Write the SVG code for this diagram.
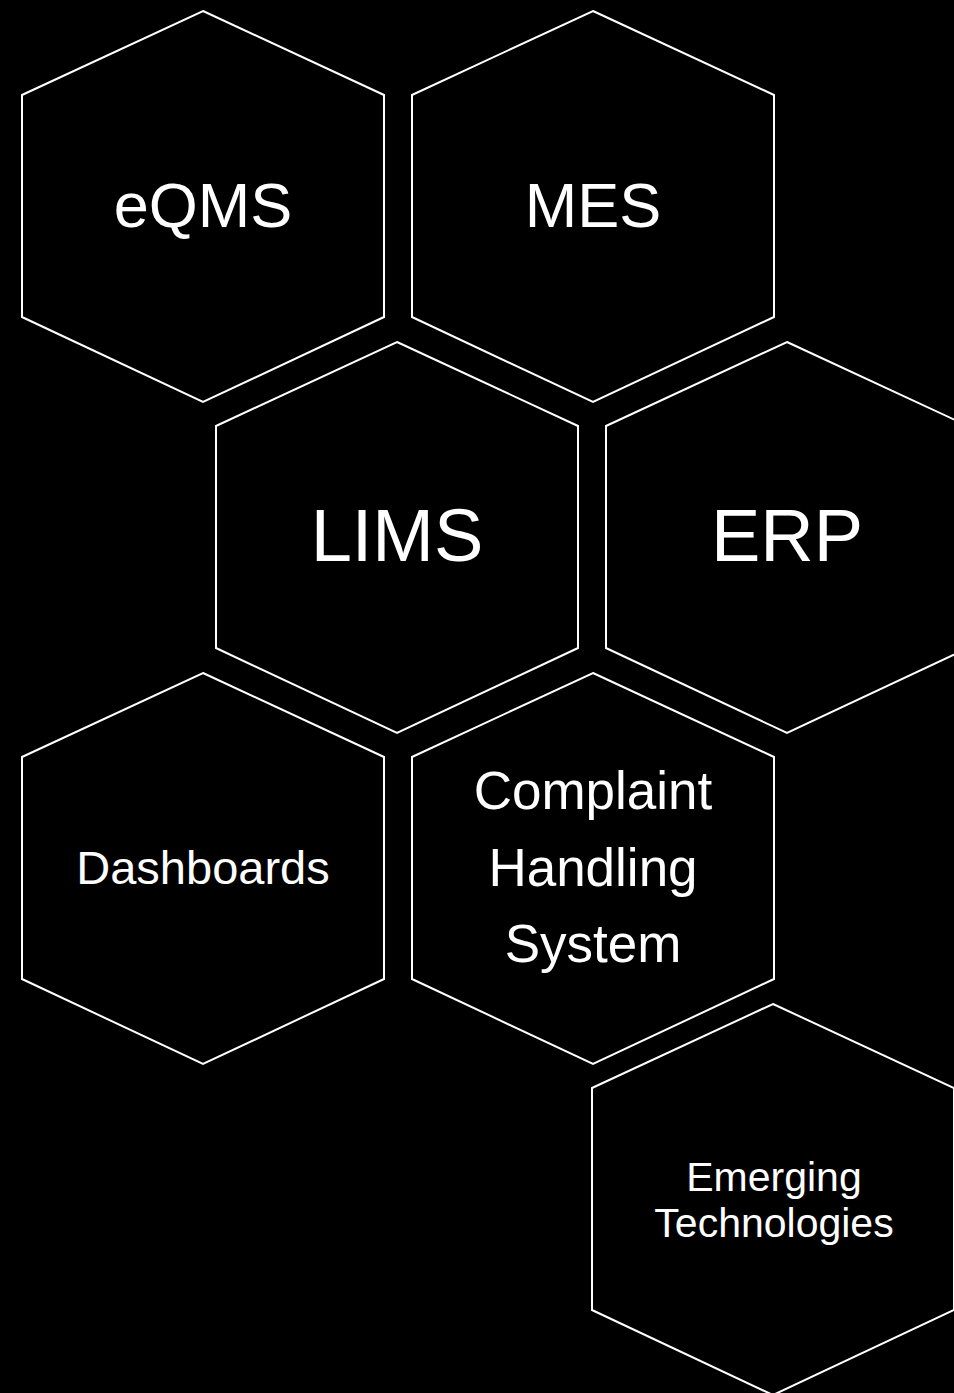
<svg xmlns="http://www.w3.org/2000/svg" width="954" height="1393" viewBox="0 0 954 1393">
<style>
.hex{fill:#000;stroke:#fff;stroke-width:2}
.t{fill:#fff;font-family:"Liberation Sans",Arial,sans-serif;text-anchor:middle}
</style>
<defs>
<polygon id="h" points="0,0 181,84 181,306 0,391 -181,306 -181,84"/>
</defs>
<rect width="954" height="1393" fill="#000"/>
<g id="connectors"/>
<g id="eqms"><use href="#h" class="hex" x="203" y="11"/><text class="t" x="203" y="227" font-size="63">eQMS</text></g>
<g id="mes"><use href="#h" class="hex" x="593" y="11"/><text class="t" x="593" y="227" font-size="63">MES</text></g>
<g id="lims"><use href="#h" class="hex" x="397" y="342"/><text class="t" x="397" y="561" font-size="74">LIMS</text></g>
<g id="erp"><use href="#h" class="hex" x="787" y="342"/><text class="t" x="787" y="561" font-size="74">ERP</text></g>
<g id="dashboards"><use href="#h" class="hex" x="203" y="673"/><text class="t" x="203" y="884" font-size="47">Dashboards</text></g>
<g id="complaint"><use href="#h" class="hex" x="593" y="673"/><text class="t" font-size="53"><tspan x="593" y="809">Complaint</tspan><tspan x="593" y="886">Handling</tspan><tspan x="593" y="962">System</tspan></text></g>
<g id="emerging"><use href="#h" class="hex" x="773" y="1004"/><text class="t" font-size="41"><tspan x="774" y="1191">Emerging</tspan><tspan x="774" y="1237">Technologies</tspan></text></g>
</svg>
